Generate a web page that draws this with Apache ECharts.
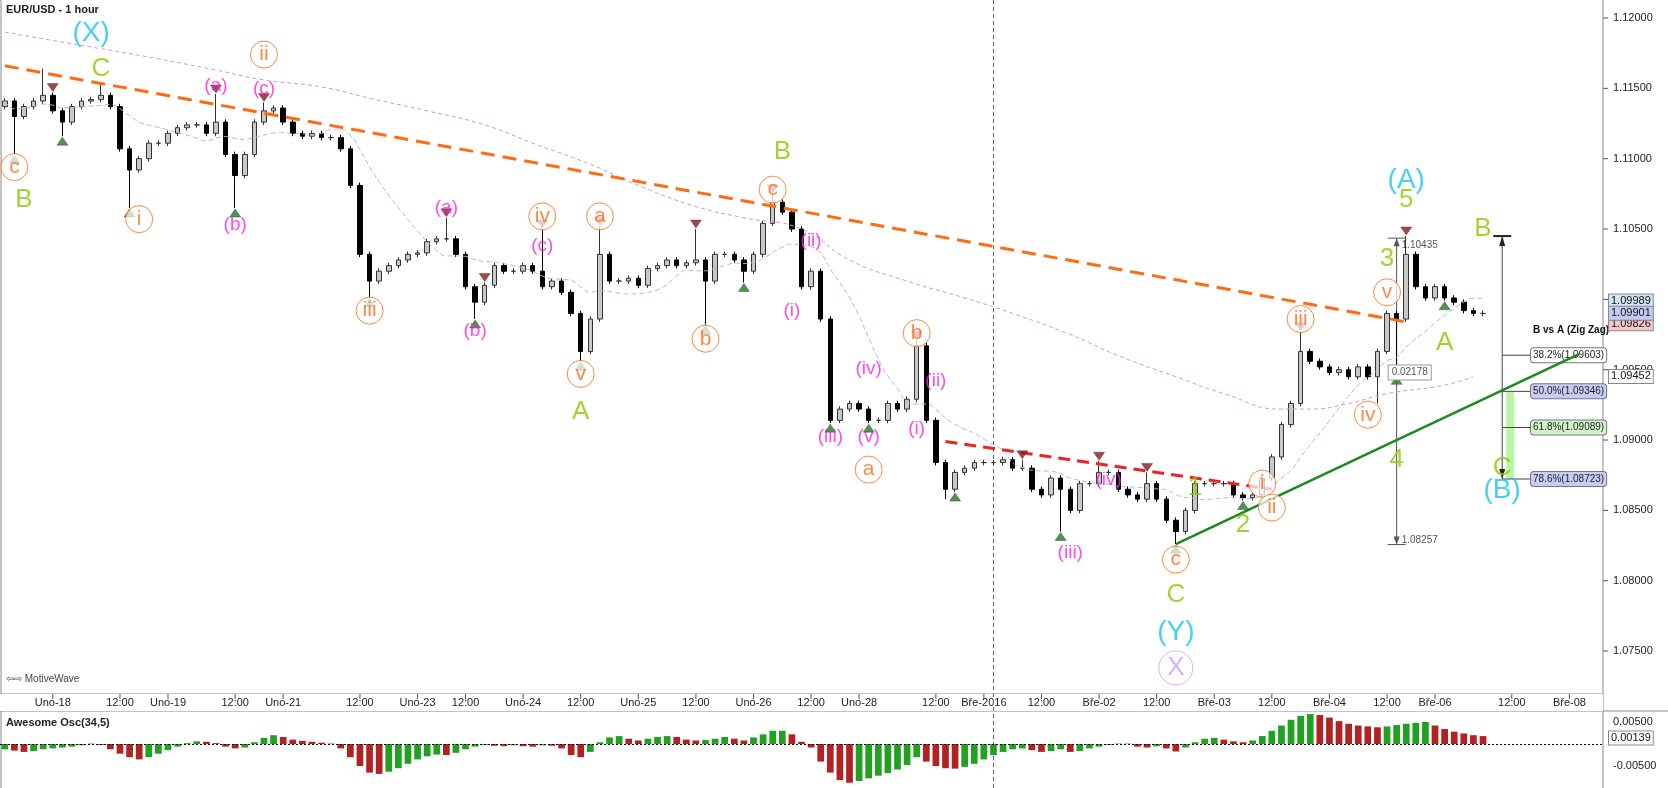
<!DOCTYPE html>
<html><head><meta charset="utf-8">
<script src="https://cdn.jsdelivr.net/npm/echarts@6/dist/echarts.min.js"></script>
<style>html,body{margin:0;padding:0;background:#fff}#c{width:1668px;height:788px}</style>
</head><body><div id="c"></div>
<script>
// ---- data ----
const closes = [1.1141,1.1130,1.1137,1.1141,1.1145,1.1134,1.1126,1.1137,1.1141,1.1142,
1.1145,1.1137,1.1107,1.1092,1.1100,1.1111,1.1111,1.1118,1.1122,1.1124,
1.1124,1.1118,1.1126,1.1103,1.1088,1.1103,1.1126,1.1134,1.1136,1.1126,
1.1118,1.1116,1.1118,1.1115,1.1115,1.1107,1.1081,1.1032,1.1013,1.1020,
1.1024,1.1028,1.1032,1.1033,1.1041,1.1043,1.1043,1.1032,1.1009,1.0998,
1.1010,1.1024,1.1020,1.1020,1.1024,1.1020,1.1009,1.1013,1.1005,1.0990,
1.0963,1.0986,1.1032,1.1013,1.1013,1.1015,1.1010,1.1022,1.1024,1.1028,
1.1024,1.1026,1.1028,1.1013,1.1032,1.1032,1.1028,1.1020,1.1032,1.1054,
1.1069,1.1062,1.1050,1.1009,1.1020,1.0986,1.0914,1.0922,1.0926,1.0922,
1.0914,1.0914,1.0926,1.0922,1.0929,1.0967,1.0914,1.0884,1.0865,1.0877,
1.0880,1.0884,1.0884,1.0884,1.0886,1.0880,1.0880,1.0865,1.0861,1.0873,
1.0865,1.0850,1.0869,1.0869,1.0877,1.0877,1.0865,1.0861,1.0858,1.0869,
1.0858,1.0843,1.0835,1.0850,1.0869,1.0869,1.0869,1.0869,1.0861,1.0859,
1.0861,1.0873,1.0888,1.0911,1.0926,1.0963,1.0956,1.0952,1.0948,1.0950,
1.0945,1.0952,1.0945,1.0963,1.0990,1.0986,1.1032,1.1009,1.1001,1.1009,
1.1001,1.0998,1.0992,1.0990,1.0990];
const firstOpen = 1.1137;
// wick extensions in pips beyond the body: [index, pips]
const highSpikes = [[4,19],[10,9],[22,20],[27,6],[46,15],[56,30],[62,20],[72,22],[80,6],[95,4],[135,14],[146,13],[106,6],[114,8],[119,8]];
const lowSpikes = [[1,27],[13,27],[24,23],[38,12],[49,12],[60,7],[73,31],[98,7],[110,30],[122,9],[143,19],[145,40],[6,10],[77,8]];
const pivotHighs = [5,22,27,46,50,56,62,72,80,95,106,114,119,135,146];
const pivotLows = [1,6,13,24,38,49,60,73,77,86,90,99,110,122,129,145,150];
const longMA = [[0,1.1190],[5,1.1184],[11,1.1177],[16,1.1171],[22,1.1163],[27,1.1156],[33,1.1151],[38,1.1143],[44,1.1134],[50,1.1124],[55,1.1111],[61,1.1096],[66,1.1081],[72,1.1066],[77,1.1058],[83,1.1050],[88,1.1028],[94,1.1013],[100,1.1001],[105,1.0990],[111,1.0975],[116,1.0960],[122,1.0945],[127,1.0933],[133,1.0922],[136,1.0922],[140,1.0926],[144,1.0933],[150,1.0939],[153,1.0945]];
const aoValues = [-0.0012,-0.0015,-0.0018,-0.0016,-0.0012,-0.0010,-0.0008,-0.0006,-0.0003,0.0001,
-0.0002,-0.0012,-0.0022,-0.0030,-0.0035,-0.0030,-0.0022,-0.0014,-0.0006,0.0002,
0.0006,0.0005,0.0002,-0.0006,-0.0010,-0.0008,0.0004,0.0014,0.0020,0.0016,
0.0010,0.0007,0.0005,0.0003,0.0001,-0.0010,-0.0030,-0.0050,-0.0065,-0.0068,
-0.0063,-0.0055,-0.0045,-0.0035,-0.0028,-0.0024,-0.0025,-0.0020,-0.0012,-0.0006,
-0.0002,-0.0004,-0.0005,-0.0003,-0.0005,-0.0006,-0.0003,-0.0004,-0.0010,-0.0025,
-0.0030,-0.0018,0.0004,0.0015,0.0018,0.0012,0.0008,0.0012,0.0016,0.0018,
0.0016,0.0010,0.0008,0.0009,0.0012,0.0016,0.0012,0.0008,0.0015,0.0022,
0.0030,0.0030,0.0022,0.0005,-0.0008,-0.0040,-0.0065,-0.0082,-0.0088,-0.0084,
-0.0078,-0.0072,-0.0066,-0.0058,-0.0048,-0.0030,-0.0040,-0.0050,-0.0055,-0.0056,
-0.0052,-0.0045,-0.0035,-0.0025,-0.0018,-0.0012,-0.0010,-0.0014,-0.0018,-0.0016,
-0.0012,-0.0018,-0.0016,-0.0010,-0.0006,-0.0002,0.0001,0.0001,-0.0006,-0.0008,
-0.0005,-0.0010,-0.0017,-0.0008,0.0004,0.0012,0.0014,0.0010,0.0006,0.0004,
0.0008,0.0018,0.0030,0.0042,0.0055,0.0064,0.0068,0.0066,0.0060,0.0052,
0.0046,0.0042,0.0040,0.0038,0.0040,0.0043,0.0046,0.0048,0.0050,0.0042,
0.0034,0.0028,0.0024,0.0020,0.0018];
const tickLabels = [[5,'Uno-18'],[12,'12:00'],[17,'Uno-19'],[24,'12:00'],[29,'Uno-21'],[37,'12:00'],[43,'Uno-23'],[48,'12:00'],[54,'Uno-24'],[60,'12:00'],[66,'Uno-25'],[72,'12:00'],[78,'Uno-26'],[84,'12:00'],[89,'Uno-28'],[97,'12:00'],[102,'Bře-2016'],[108,'12:00'],[114,'Bře-02'],[120,'12:00'],[126,'Bře-03'],[132,'12:00'],[138,'Bře-04'],[144,'12:00'],[149,'Bře-06'],[157,'12:00'],[163,'Bře-08']];
const waveLabels = [ // [index, price, text, style]
[9,1.1189,'(X)','cyan'],[10,1.1164,'C','green'],[1,1.1094,'c','oc'],[2,1.1071,'B','green'],
[27,1.1174,'ii','oc'],[22,1.1152,'(a)','mag'],[27,1.1150,'(c)','mag'],[14,1.1057,'i','oc'],[24,1.1053,'(b)','mag'],
[38,1.0992,'iii','oc'],[46,1.1065,'(a)','mag'],[49,1.0978,'(b)','mag'],[56,1.1059,'iv','oc'],[56,1.1038,'(c)','mag'],
[62,1.1059,'a','oc'],[60,1.0947,'v','oc'],[60,1.0920,'A','green'],[81,1.1105,'B','green'],[80,1.1078,'c','oc'],
[84,1.1042,'(ii)','mag'],[73,1.0972,'b','oc'],[82,1.0992,'(i)','mag'],[86,1.0902,'(iii)','mag'],[90,1.0951,'(iv)','mag'],
[90,1.0902,'(v)','mag'],[90,1.0879,'a','oc'],[95,1.0976,'b','oc'],[97,1.0942,'(ii)','mag'],[95,1.0908,'(i)','mag'],
[111,1.0820,'(iii)','mag'],[115,1.0872,'(iv)','mag'],[122,1.0790,'C','green'],[122,1.0815,'c','oc'],[122,1.0763,'(Y)','cyan'],
[122,1.0738,'X','lav'],[124,1.0866,'1','green'],[129,1.0840,'2','green'],[131,1.0869,'i','oc'],[132,1.0852,'ii','oc'],
[135,1.0986,'iii','oc'],[142,1.0918,'iv','oc'],[144,1.1005,'v','oc'],[144,1.1029,'3','green'],[146,1.1071,'5','green'],
[146,1.1085,'(A)','cyan'],[145,1.0886,'4','green'],[150,1.0969,'A','green'],[154,1.1050,'B','green'],[156,1.0880,'C','green'],[156,1.0864,'(B)','cyan']];
const fibLevels = [[0.382,1.09603],[0.5,1.09346],[0.618,1.09089],[0.786,1.08723]];
const measureTop = 1.10435, measureBottom = 1.08257, fibTop = 1.1045;

// ---- build ----
const N = 167;
const cats = []; for (let i=0;i<N;i++) cats.push('');
tickLabels.forEach(([i,t])=>cats[i]=t);
const hs={}, ls={}; highSpikes.forEach(([i,p])=>hs[i]=p); lowSpikes.forEach(([i,p])=>ls[i]=p);
const ohlc = closes.map((c,i)=>{const o=i?closes[i-1]:firstOpen;
  const h=Math.max(o,c)+(hs[i]||2)*0.0001, l=Math.min(o,c)-(ls[i]||2)*0.0001; return [o,c,l,h];});
const ma = closes.map((c,i)=>{const s=closes.slice(Math.max(0,i-9),i+1);return s.reduce((a,b)=>a+b,0)/s.length;});
const longLine = new Array(N).fill(null); longMA.forEach(([i,v])=>longLine[i]=v);
const aoBars = aoValues.map((v,i)=>({value:v,itemStyle:{color:(i>0&&v<aoValues[i-1])?'#b22222':'#22a022'}}));
const styles = {
 cyan:{color:'#19c3f5',size:28,circle:false}, green:{color:'#8cc800',size:26,circle:false},
 mag:{color:'#ff1ee6',size:19,circle:false}, oc:{color:'#ff6a13',size:21,circle:true},
 lav:{color:'#c8a0ff',size:26,circle:true}};
const labelSeries = Object.keys(styles).map(k=>{const s=styles[k];
 return {type:'scatter',xAxisIndex:0,yAxisIndex:0,z:10,
  data:waveLabels.filter(w=>w[3]===k).map(w=>({value:[w[0],w[1]],name:w[2]})),
  symbol:'circle',symbolSize:s.circle?(k==='lav'?34:27):1,
  itemStyle:s.circle?{color:'rgba(255,255,255,0.9)',borderColor:s.color,borderWidth:1}:{color:'rgba(0,0,0,0)'},
  label:{show:true,position:'inside',formatter:p=>p.name,color:s.color,fontSize:s.size,fontFamily:'Liberation Sans, Arial'},
  emphasis:{disabled:true},silent:true};});
const chart = echarts.init(document.getElementById('c'));
const onStep = v => Math.abs(v*200-Math.round(v*200))<1e-6;
const priceLabelFmt = v => (v<1.0725||v>1.1205||!onStep(v))?'':v.toFixed(5);
chart.setOption({
 animation:false,
 grid:[{left:0,right:65,top:0,bottom:66.6,show:false},{left:0,right:65,top:700,height:96}],
 xAxis:[{type:'category',data:cats,gridIndex:0,boundaryGap:true,position:'bottom',
   axisLine:{show:false},axisTick:{show:false},axisLabel:{show:false},splitLine:{show:false}},
  {type:'category',data:cats,gridIndex:1,boundaryGap:true,axisLine:{show:false},axisTick:{show:false},axisLabel:{show:false}}],
 yAxis:[{type:'value',gridIndex:0,position:'right',min:1.07,max:1.12128,interval:0.005,
   axisLine:{show:false},axisTick:{show:false},splitLine:{show:false},
   axisLabel:{formatter:priceLabelFmt,color:'#222',fontSize:11,margin:10,fontFamily:'Liberation Sans',showMaxLabel:false}},
  {type:'value',gridIndex:1,position:'right',min:-0.01,max:0.01,interval:0.005,
   axisLine:{show:false},axisTick:{show:false},splitLine:{show:false},
   axisLabel:{formatter:v=>Math.abs(Math.abs(v)-0.005)<1e-9?(v<0?'-':'')+'0.00500':'',color:'#222',fontSize:11,margin:10}}],
 series:[
  {type:'line',data:longLine,connectNulls:true,symbol:'none',smooth:true,lineStyle:{color:'#c89ad8',width:1,type:[4,3]},silent:true},
  {type:'line',data:ma,symbol:'none',smooth:true,lineStyle:{color:'#9bb8f5',width:1,type:[5,3]},silent:true},
  {type:'candlestick',data:ohlc,barWidth:5,
   itemStyle:{color:'#c8c8c8',color0:'#000',borderColor:'#333',borderColor0:'#000',borderWidth:1},
   markLine:{symbol:'none',silent:true,label:{show:false},data:[
    [{coord:[0,1.1166]},{coord:[146,1.0984],lineStyle:{color:'#ff6a13',width:3,type:[14,8]}}],
    [{coord:[98,1.0899]},{coord:[132,1.0865],lineStyle:{color:'#ee2222',width:3,type:[12,7]}}],
    [{coord:[122,1.0826]},{coord:[164,1.0961],lineStyle:{color:'#1c8a1c',width:2.5,type:'solid'}}]
   ]}},
  {type:'scatter',data:pivotHighs.map(i=>[i,ohlc[i][3]]),symbol:'triangle',symbolRotate:180,symbolSize:[11,8],symbolOffset:[0,-5],itemStyle:{color:'#8b1a1a',borderColor:'#333',borderWidth:0.5},silent:true,z:5},
  {type:'scatter',data:pivotLows.map(i=>[i,ohlc[i][2]]),symbol:'triangle',symbolSize:[11,8],symbolOffset:[0,5],itemStyle:{color:'#1f7a1f',borderColor:'#333',borderWidth:0.5},silent:true,z:5},
  ...labelSeries,
  {type:'bar',xAxisIndex:1,yAxisIndex:1,data:aoBars,barWidth:'70%',silent:true,
   markLine:{symbol:'none',silent:true,label:{show:false},lineStyle:{color:'#000',type:[2,2],width:1},data:[{yAxis:0}]}}
 ]
});
// ---- overlays via library scales ----
const P=(i,v)=>chart.convertToPixel({gridIndex:0},[i,v]);
const Q=(i,v)=>chart.convertToPixel({gridIndex:1},[i,v]);
const G=[];
const plotRight=1603;
G.push({type:'line',shape:{x1:plotRight,y1:0,x2:plotRight,y2:788},style:{stroke:'#888',lineWidth:1}});
G.push({type:'line',shape:{x1:0,y1:694,x2:plotRight,y2:694},style:{stroke:'#888',lineWidth:1}});
G.push({type:'line',shape:{x1:0,y1:711,x2:1668,y2:711},style:{stroke:'#888',lineWidth:1}});
G.push({type:'line',shape:{x1:1,y1:0,x2:1,y2:788},style:{stroke:'#888',lineWidth:1}});
G.push({type:'rect',shape:{x:0,y:694,width:plotRight,height:17},style:{fill:'#fff'},z:0});
for(let v=1.075;v<=1.1201;v+=0.005){const y=P(0,v)[1];G.push({type:'line',shape:{x1:plotRight,y1:y,x2:plotRight+5,y2:y},style:{stroke:'#555'}});}
tickLabels.forEach(([i,t])=>{const x=P(i,1.1)[0];
 G.push({type:'line',shape:{x1:x,y1:694,x2:x,y2:699},style:{stroke:'#555'}});
 G.push({type:'text',x:x,y:703,style:{text:t,fill:'#222',font:'11px Liberation Sans',textAlign:'center',textVerticalAlign:'middle'}});});
const xd=P(103,1.1)[0];
G.push({type:'line',shape:{x1:xd,y1:0,x2:xd,y2:788},style:{stroke:'#666',lineDash:[4,3],lineWidth:1},z:1});
G.push({type:'text',x:6,y:4,style:{text:'EUR/USD - 1 hour',fill:'#222',font:'bold 11px Liberation Sans'}});
G.push({type:'text',x:6,y:674,style:{text:'⇦⇨ MotiveWave',fill:'#444',font:'10px Liberation Sans'}});
G.push({type:'text',x:6,y:717,style:{text:'Awesome Osc(34,5)',fill:'#222',font:'bold 11px Liberation Sans'}});
const mt=P(145,measureTop), mb=P(145,measureBottom);
G.push({type:'line',shape:{x1:mt[0],y1:mt[1],x2:mb[0],y2:mb[1]},style:{stroke:'#555',lineWidth:1}});
G.push({type:'line',shape:{x1:mt[0]-9,y1:mt[1],x2:mt[0]+9,y2:mt[1]},style:{stroke:'#555'}});
G.push({type:'line',shape:{x1:mb[0]-9,y1:mb[1],x2:mb[0]+9,y2:mb[1]},style:{stroke:'#555'}});
G.push({type:'polygon',shape:{points:[[mt[0]-3,mt[1]+8],[mt[0]+3,mt[1]+8],[mt[0],mt[1]]]},style:{fill:'#555'}});
G.push({type:'polygon',shape:{points:[[mb[0]-3,mb[1]-8],[mb[0]+3,mb[1]-8],[mb[0],mb[1]]]},style:{fill:'#555'}});
G.push({type:'text',x:mt[0]+5,y:mt[1]+7,style:{text:measureTop.toFixed(5),fill:'#555',font:'10px Liberation Sans',textVerticalAlign:'middle'}});
G.push({type:'text',x:mb[0]+5,y:mb[1]-4,style:{text:measureBottom.toFixed(5),fill:'#555',font:'10px Liberation Sans',textVerticalAlign:'middle'}});
const mm=P(145,1.0948);
G.push({type:'text',x:mm[0]-8,y:mm[1],style:{text:(measureTop-measureBottom).toFixed(5),fill:'#555',font:'10px Liberation Sans',backgroundColor:'#fff',borderColor:'#999',borderWidth:1,padding:[2,3],textVerticalAlign:'middle'},z:20});
const ft=P(156,fibTop), fb=P(156,fibLevels[3][1]), xr=P(159.3,1.1)[0];
G.push({type:'rect',shape:{x:ft[0]+4,y:P(156,fibLevels[1][1])[1],width:8,height:fb[1]-P(156,fibLevels[1][1])[1]},style:{fill:'#b8f5a8'}});
G.push({type:'line',shape:{x1:ft[0],y1:ft[1],x2:fb[0],y2:fb[1]},style:{stroke:'#444',lineWidth:1}});
G.push({type:'line',shape:{x1:ft[0]-9,y1:ft[1],x2:ft[0]+9,y2:ft[1]},style:{stroke:'#222',lineWidth:2}});
G.push({type:'polygon',shape:{points:[[ft[0]-3,ft[1]+10],[ft[0]+3,ft[1]+10],[ft[0],ft[1]]]},style:{fill:'#222'}});
G.push({type:'polygon',shape:{points:[[fb[0]-3,fb[1]-10],[fb[0]+3,fb[1]-10],[fb[0],fb[1]]]},style:{fill:'#222'}});
G.push({type:'text',x:xr+2,y:P(156,1.0978)[1],style:{text:'B vs A (Zig Zag)',fill:'#111',font:'bold 10px Liberation Sans',textVerticalAlign:'middle'}});
const fibFill={0.382:'#fff',0.5:'#c8ccf5',0.618:'#d0f5c8',0.786:'#c8ccf5'};
fibLevels.forEach(([r,v])=>{const p=P(156,v);
 G.push({type:'line',shape:{x1:p[0],y1:p[1],x2:xr,y2:p[1]},style:{stroke:'#444'}});
 G.push({type:'text',x:xr,y:p[1],style:{text:(r*100).toFixed(1)+'%('+v.toFixed(5)+')',fill:'#222',font:'10px Liberation Sans',backgroundColor:fibFill[r],borderColor:'#777',borderWidth:1,borderRadius:3,padding:[2,2],textVerticalAlign:'middle'}});});
[[1.09989,'#cfe6f5'],[1.09826,'#f5c8c8'],[1.09901,'#c8c8f5'],[1.09452,'#fff']].forEach(([v,c])=>{const y=P(0,v)[1];
 G.push({type:'text',x:plotRight+6,y:y,style:{text:v.toFixed(5),fill:'#111',font:'11px Liberation Sans',backgroundColor:c,borderColor:'#888',borderWidth:1,padding:[1,2],textVerticalAlign:'middle'},z:30});});
const ay=Q(0,0.00139)[1];
G.push({type:'text',x:plotRight+6,y:ay,style:{text:'0.00139',fill:'#111',font:'11px Liberation Sans',backgroundColor:'#fff',borderColor:'#888',borderWidth:1,padding:[1,2],textVerticalAlign:'middle'},z:30});
chart.setOption({graphic:G});
</script></body></html>
